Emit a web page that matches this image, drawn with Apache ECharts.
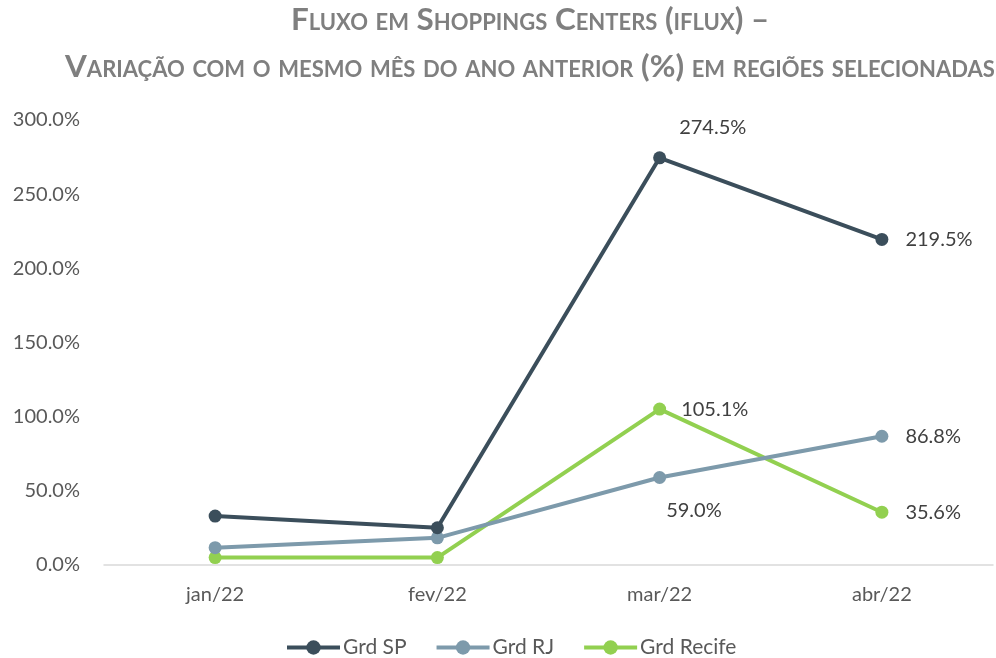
<!DOCTYPE html>
<html>
<head>
<meta charset="utf-8">
<script src="https://cdn.jsdelivr.net/npm/echarts@6/dist/echarts.min.js"></script>
<style>
html,body{margin:0;padding:0;background:#fff;}
#chart{width:996px;height:658px;}
</style>
</head>
<body>
<div id="chart"></div>
<script>
var categories = ['jan/22', 'fev/22', 'mar/22', 'abr/22'];
var seriesNames = ['Grd SP', 'Grd RJ', 'Grd Recife'];
var grdSP = [33.0, 25.1, 274.5, 219.5];
var grdRJ = [11.7, 18.3, 59.0, 86.8];
var grdRecife = [5.0, 5.0, 105.1, 35.6];
var yTicks = { min: 0, max: 300, interval: 50 };
var titleText = 'Fluxo em Shoppings Centers (iflux) –\nVariação com o mesmo mês do ano anterior (%) em regiões selecionadas';

var FONT = 'Lato';
var colors = ['#3b4e5b', '#7d9aab', '#92d050'];
// label offsets for points with labels (index 2 and 3)
var labelOffsets = [
  { 2: [8, -30], 3: [12, 0] },
  { 2: [-5, 33], 3: [12, 0] },
  { 2: [10, 0], 3: [12, 0] }
];

function buildData(vals, si) {
  return vals.map(function (v, i) {
    var off = labelOffsets[si][i];
    return {
      value: v,
      label: off ? { show: true, position: 'right', offset: off } : { show: false }
    };
  });
}

var allVals = [grdSP, grdRJ, grdRecife];
var series = allVals.map(function (vals, si) {
  return {
    name: seriesNames[si],
    type: 'line',
    data: buildData(vals, si),
    symbol: 'circle',
    symbolSize: 13,
    lineStyle: { width: 4, color: colors[si] },
    itemStyle: { color: colors[si] },
    label: {
      color: '#404040',
      fontFamily: FONT,
      fontSize: 20,
      distance: 5,
      formatter: function (p) { return p.value.toFixed(1) + '%'; }
    },
    emphasis: { disabled: true },
    z: 3 - si
  };
});

var chart = echarts.init(document.getElementById('chart'), null, { renderer: 'canvas' });
chart.setOption({
  animation: false,
  backgroundColor: '#fff',
  color: colors,
  title: {
    text: titleText,
    left: 525,
    top: -9,
    textAlign: 'center',
    textStyle: {
      fontFamily: FONT,
      fontStyle: 'small-caps',
      fontWeight: 'bold',
      fontSize: 31.4,
      color: '#7f7f7f',
      lineHeight: 47
    }
  },
  grid: { left: 104, right: 3, top: 120, bottom: 93, containLabel: false },
  xAxis: {
    type: 'category',
    data: categories,
    boundaryGap: true,
    axisLine: { show: true, lineStyle: { color: '#d9d9d9', width: 1.5 } },
    axisTick: { show: false },
    axisLabel: { color: '#595959', fontFamily: FONT, fontSize: 20, margin: 20 },
    splitLine: { show: false }
  },
  yAxis: {
    type: 'value',
    min: yTicks.min,
    max: yTicks.max,
    interval: yTicks.interval,
    axisLine: { show: false },
    axisTick: { show: false },
    splitLine: { show: false },
    axisLabel: {
      color: '#595959', fontFamily: FONT, fontSize: 20, margin: 24,
      formatter: function (v) { return v.toFixed(1) + '%'; }
    }
  },
  legend: {
    data: seriesNames,
    top: 637,
    left: 285,
    padding: 0,
    itemWidth: 53,
    itemHeight: 18,
    itemGap: 28,
    lineStyle: { width: 4 },
    textStyle: { color: '#595959', fontFamily: FONT, fontSize: 21, padding: [0, 0, 0, -2] }
  },
  series: series
});
</script>
</body>
</html>
